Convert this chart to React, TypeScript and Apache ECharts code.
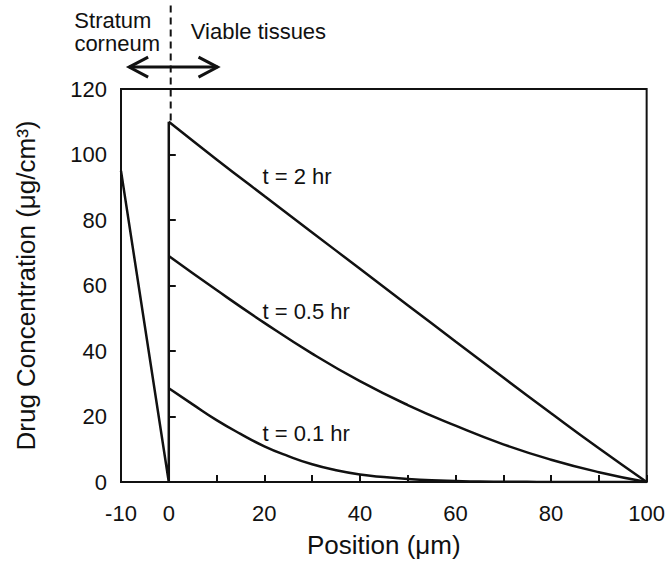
import React, { useEffect, useRef } from "react";
import * as echarts from "echarts";

// Stratum corneum segment plus the jump at the interface
const scX = [-10, 0, 0];
const scY = [95, 0, 110];

const t2X = [0, 10, 20, 30, 40, 50, 60, 70, 80, 90, 100];
const t2Y = [110, 98.5, 87.3, 76.2, 65.1, 54, 42.9, 31.9, 21, 10.3, 0];

const t05X = [0, 10, 20, 30, 40, 50, 60, 70, 80, 90, 100];
const t05Y = [69, 58.6, 48.6, 39.2, 30.8, 23.5, 17.2, 11.5, 6.8, 3, 0];

const t01X = [0, 5, 10, 15, 20, 25, 30, 35, 40, 45, 50, 55, 60, 65, 70, 75, 80, 85, 90, 95, 100];
const t01Y = [28.6, 23.7, 18.9, 14.7, 10.9, 7.9, 5.4, 3.6, 2.3, 1.5, 0.9, 0.5, 0.3, 0.15, 0.1, 0.05, 0, 0, 0, 0, 0];

const curveLabels = ["t = 2 hr", "t = 0.5 hr", "t = 0.1 hr"];
const curveLabelX = [19.6, 19.6, 19.6];
const curveLabelY = [93.4, 52.2, 14.7];

const xLabelsShown = [-10, 0, 20, 40, 60, 80, 100];

const FONT = "'Liberation Sans', Arial, Helvetica, sans-serif";
const INK = "#111";

const zip = (xs: number[], ys: number[]) => xs.map((x, i) => [x, ys[i]]);

export default function App() {
  const ref = useRef<HTMLDivElement>(null);
  useEffect(() => {
    if (!ref.current) return;
    const chart = echarts.init(ref.current, null, { renderer: "svg" });
    const lineSeries = (name: string, data: number[][], smooth: boolean) => ({
      name,
      type: "line",
      data,
      smooth: smooth ? 0.5 : false,
      showSymbol: false,
      symbol: "none",
      lineStyle: { color: INK, width: 2.5 },
      z: 3,
    });
    chart.setOption({
      animation: false,
      backgroundColor: "#fff",
      grid: {
        left: 121,
        right: 20,
        top: 89,
        bottom: 87,
        show: true,
        borderColor: INK,
        borderWidth: 2,
        backgroundColor: "transparent",
      },
      xAxis: {
        type: "value",
        min: -10,
        max: 100,
        interval: 10,
        name: "Position (μm)",
        nameLocation: "middle",
        nameGap: 50,
        nameTextStyle: { fontFamily: FONT, fontSize: 26, color: INK },
        axisLine: { show: false },
        axisTick: { show: true, inside: true, length: 7, lineStyle: { color: INK, width: 2 } },
        splitLine: { show: false },
        axisLabel: {
          margin: 20,
          fontFamily: FONT,
          fontSize: 22,
          color: INK,
          formatter: (v: number) => (xLabelsShown.includes(v) ? String(v) : ""),
        },
      },
      yAxis: {
        type: "value",
        min: 0,
        max: 120,
        interval: 20,
        name: "Drug Concentration (μg/cm³)",
        nameLocation: "middle",
        nameGap: 82,
        nameTextStyle: { fontFamily: FONT, fontSize: 26, color: INK },
        axisLine: { show: false },
        axisTick: { show: true, inside: true, length: 7, lineStyle: { color: INK, width: 2 } },
        splitLine: { show: false },
        axisLabel: { margin: 14, fontFamily: FONT, fontSize: 22, color: INK },
      },
      series: [
        lineSeries("sc", zip(scX, scY), false),
        lineSeries("t2", zip(t2X, t2Y), true),
        lineSeries("t05", zip(t05X, t05Y), true),
        lineSeries("t01", zip(t01X, t01Y), true),
      ],
    });

    const P = (x: number, y: number) =>
      chart.convertToPixel({ gridIndex: 0 }, [x, y]) as number[];

    const textStyle = (s: string, align: string) => ({
      text: s,
      fontFamily: FONT,
      fontSize: 22,
      fill: INK,
      align,
      verticalAlign: "middle",
    });

    const graphics: any[] = [];
    curveLabels.forEach((s, i) => {
      const p = P(curveLabelX[i], curveLabelY[i]);
      graphics.push({ type: "text", x: p[0], y: p[1], style: textStyle(s, "left"), z: 10 });
    });
    const st = P(-11.7, 141);
    graphics.push({ type: "text", x: st[0], y: st[1], style: textStyle("Stratum", "center"), z: 10 });
    const co = P(-10.8, 134);
    graphics.push({ type: "text", x: co[0], y: co[1], style: textStyle("corneum", "center"), z: 10 });
    const vt = P(4.6, 137.5);
    graphics.push({ type: "text", x: vt[0], y: vt[1], style: textStyle("Viable tissues", "left"), z: 10 });

    // dashed interface line
    const d1 = P(0.4, 145.5);
    const d2 = P(0.4, 110);
    graphics.push({
      type: "line",
      shape: { x1: d1[0], y1: d1[1], x2: d2[0], y2: d2[1] },
      style: { stroke: INK, lineWidth: 2, lineDash: [7, 5] },
      z: 10,
    });

    // double-headed arrow
    const a1 = P(-8.3, 126.7);
    const a2 = P(10.2, 126.7);
    const arrowStyle = { stroke: INK, lineWidth: 3, fill: "none" };
    graphics.push({
      type: "line",
      shape: { x1: a1[0], y1: a1[1], x2: a2[0], y2: a2[1] },
      style: arrowStyle,
      z: 10,
    });
    graphics.push({
      type: "polyline",
      shape: { points: [[a1[0] + 19, a1[1] - 10], [a1[0], a1[1]], [a1[0] + 19, a1[1] + 10]] },
      style: arrowStyle,
      z: 10,
    });
    graphics.push({
      type: "polyline",
      shape: { points: [[a2[0] - 19, a2[1] - 10], [a2[0], a2[1]], [a2[0] - 19, a2[1] + 10]] },
      style: arrowStyle,
      z: 10,
    });

    chart.setOption({ graphic: graphics });

    return () => chart.dispose();
  }, []);

  return <div ref={ref} style={{ width: 668, height: 569, position: "absolute", left: 0, top: 0 }} />;
}
